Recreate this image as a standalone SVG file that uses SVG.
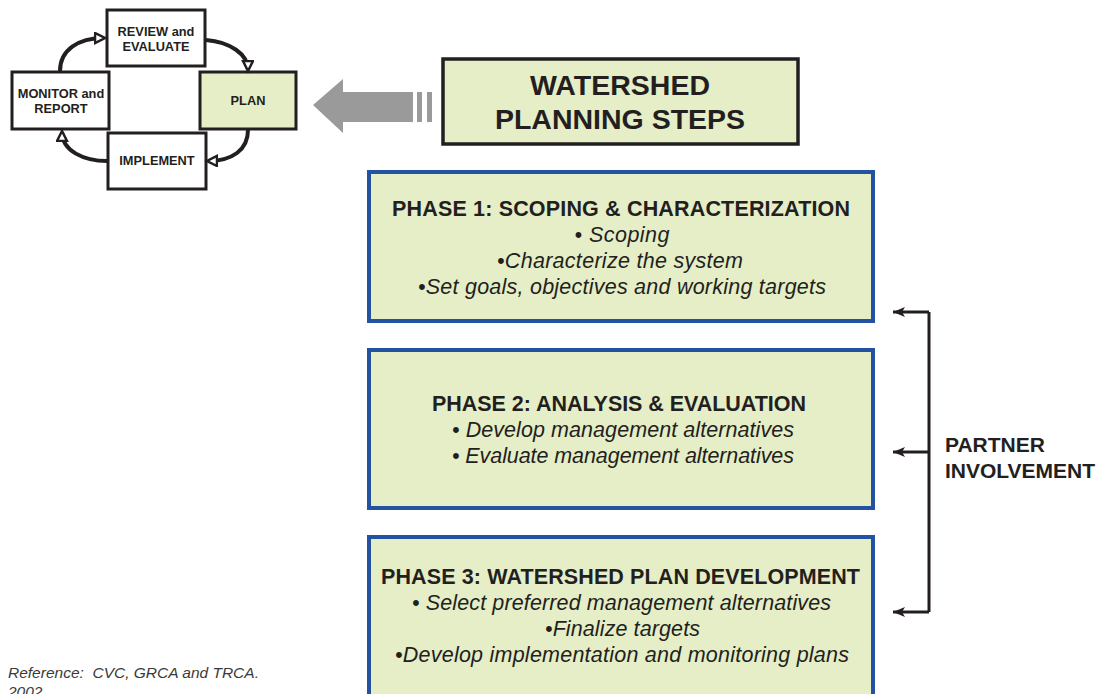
<svg xmlns="http://www.w3.org/2000/svg" width="1103" height="694" viewBox="0 0 1103 694">
  <style>
    .cyc { fill: #ffffff; stroke: #231f20; stroke-width: 3; }
    .cyc-hl { fill: #e5eec6; stroke: #231f20; stroke-width: 3; }
    .phase { fill: #e5eec6; stroke: #2452a3; stroke-width: 4; }
    .small { font-family: "Liberation Sans", Arial, sans-serif; font-weight: bold; font-size: 12.8px; fill: #231f20; text-anchor: middle; }
    .title { font-family: "Liberation Sans", Arial, sans-serif; font-weight: bold; font-size: 28.5px; fill: #231f20; text-anchor: middle; }
    .ph-head { font-family: "Liberation Sans", Arial, sans-serif; font-weight: bold; font-size: 21.5px; fill: #231f20; text-anchor: middle; }
    .ph-item { font-family: "Liberation Sans", Arial, sans-serif; font-style: italic; font-size: 21.5px; fill: #231f20; text-anchor: middle; }
    .side { font-family: "Liberation Sans", Arial, sans-serif; font-weight: bold; font-size: 21px; fill: #231f20; }
    .ref { font-family: "Liberation Sans", Arial, sans-serif; font-style: italic; font-size: 15.5px; fill: #3a3a3a; white-space: pre; }
    .loop { fill: none; stroke: #231f20; stroke-width: 4; }
    .brk { fill: none; stroke: #231f20; stroke-width: 3; }
  </style>
  <defs>
    <marker id="loopHead" markerUnits="userSpaceOnUse" markerWidth="14" markerHeight="14" refX="10" refY="6" orient="auto">
      <path d="M1,1 L11,6 L1,11 Z" fill="#ffffff" stroke="#231f20" stroke-width="2.5" stroke-linejoin="miter"/>
    </marker>
    <marker id="brkHead" markerUnits="userSpaceOnUse" markerWidth="14" markerHeight="12" refX="12" refY="6" orient="auto">
      <path d="M0,1 L12,6 L0,11 L3,6 Z" fill="#231f20"/>
    </marker>
  </defs>

  <!-- planning cycle -->
  <g id="review">
    <rect class="cyc" x="107" y="10" width="98" height="56"/>
    <text class="small" x="156" y="36">REVIEW and</text>
    <text class="small" x="156" y="51">EVALUATE</text>
  </g>
  <g id="monitor">
    <rect class="cyc" x="12" y="72" width="97" height="57"/>
    <text class="small" x="61" y="98">MONITOR and</text>
    <text class="small" x="61" y="113">REPORT</text>
  </g>
  <g id="plan">
    <rect class="cyc-hl" x="200" y="72" width="96" height="57"/>
    <text class="small" x="248" y="105">PLAN</text>
  </g>
  <g id="implement">
    <rect class="cyc" x="108" y="133" width="98" height="56"/>
    <text class="small" x="157" y="165">IMPLEMENT</text>
  </g>

  <!-- big grey pointer from the steps title to the cycle -->
  <g id="pointer" fill="#9a9a9a">
    <path d="M313,105 L343,79 L343,92 L413,92 L413,122 L343,122 L343,133 Z"/>
    <rect x="417" y="92" width="5" height="30"/>
    <rect x="427" y="92" width="5" height="30"/>
  </g>

  <g id="steps-title">
    <rect x="443" y="59" width="355" height="85" fill="#e5eec6" stroke="#231f20" stroke-width="3.5"/>
    <text class="title" x="620" y="95">WATERSHED</text>
    <text class="title" x="620" y="129">PLANNING STEPS</text>
  </g>

  <g id="phase1">
    <rect class="phase" x="369" y="172" width="504" height="149"/>
    <text class="ph-head" x="621" y="216" textLength="458">PHASE 1: SCOPING &amp; CHARACTERIZATION</text>
    <text class="ph-item" x="622" y="242" textLength="95">• Scoping</text>
    <text class="ph-item" x="620" y="268" textLength="246">•Characterize the system</text>
    <text class="ph-item" x="622" y="294" textLength="408">•Set goals, objectives and working targets</text>
  </g>

  <g id="phase2">
    <rect class="phase" x="369" y="350" width="504" height="158"/>
    <text class="ph-head" x="619" y="411" textLength="374">PHASE 2: ANALYSIS &amp; EVALUATION</text>
    <text class="ph-item" x="623" y="437" textLength="342">• Develop management alternatives</text>
    <text class="ph-item" x="623" y="463" textLength="342">• Evaluate management alternatives</text>
  </g>

  <g id="phase3">
    <rect class="phase" x="369" y="537" width="504" height="160"/>
    <text class="ph-head" x="620.5" y="584" textLength="479">PHASE 3: WATERSHED PLAN DEVELOPMENT</text>
    <text class="ph-item" x="621.5" y="610" textLength="419">• Select preferred management alternatives</text>
    <text class="ph-item" x="622.5" y="636" textLength="155">•Finalize targets</text>
    <text class="ph-item" x="622" y="662" textLength="454">•Develop implementation and monitoring plans</text>
  </g>

  <g id="partner">
    <text class="side" x="945" y="452">PARTNER</text>
    <text class="side" x="945" y="478">INVOLVEMENT</text>
  </g>

  <g id="reference">
    <text class="ref" x="8" y="678">Reference:  CVC, GRCA and TRCA.</text>
    <text class="ref" x="8" y="697">2002</text>
  </g>

  <!-- connectors -->
  <g id="connectors">
    <path class="loop" d="M60,71 C60,50 78,38 104,38" marker-end="url(#loopHead)"/>
    <path class="loop" d="M206,40 C230,42 248,54 248,70" marker-end="url(#loopHead)"/>
    <path class="loop" d="M248,130 C248,150 232,161 208,161" marker-end="url(#loopHead)"/>
    <path class="loop" d="M107,161 C84,161 62,151 62,132" marker-end="url(#loopHead)"/>
    <path class="brk" d="M929,312 L929,612"/>
    <path class="brk" d="M929,312 L893,312" marker-end="url(#brkHead)"/>
    <path class="brk" d="M929,452 L893,452" marker-end="url(#brkHead)"/>
    <path class="brk" d="M929,612 L893,612" marker-end="url(#brkHead)"/>
  </g>
</svg>
